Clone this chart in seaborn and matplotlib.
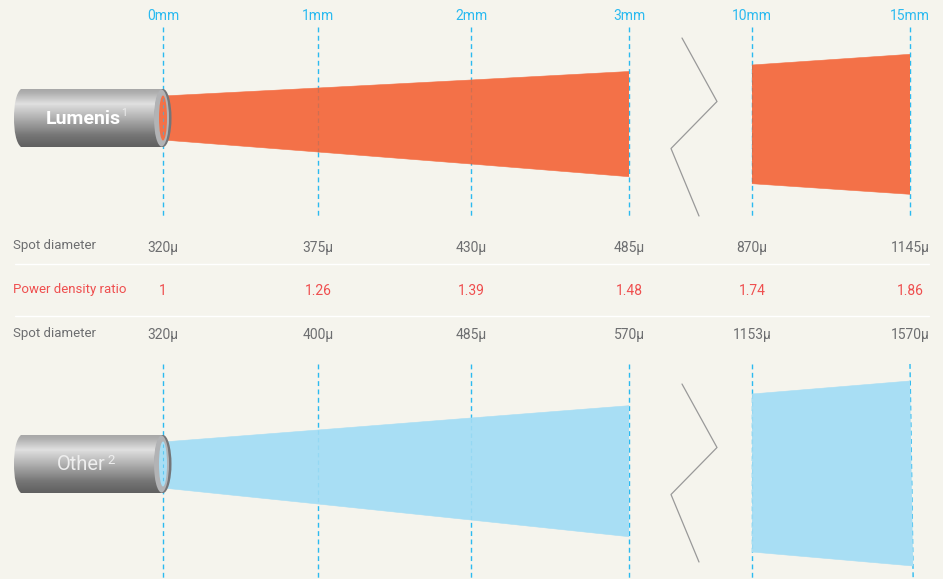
import numpy as np
import pandas as pd
import seaborn as sns
import matplotlib.pyplot as plt
from matplotlib.patches import Ellipse, PathPatch
from matplotlib.path import Path

# ==========================================
# DATA
# ==========================================
MM_NEAR = [0, 1, 2, 3]
MM_FAR = [10, 15]
MM_LABELS = ["0mm", "1mm", "2mm", "3mm", "10mm", "15mm"]

LUMENIS_SPOT = ["320μ", "375μ", "430μ", "485μ", "870μ", "1145μ"]
POWER_RATIO = ["1", "1.26", "1.39", "1.48", "1.74", "1.86"]
OTHER_SPOT = ["320μ", "400μ", "485μ", "570μ", "1153μ", "1570μ"]

# beam edges, one value per distance
LUMENIS_TOP = [96, 88, 80, 71.5, 65, 54.3]
LUMENIS_BOTTOM = [140, 152, 164, 176.7, 183.7, 194.3]
OTHER_TOP = [442, 430, 418, 405.7, 394, 381]
OTHER_BOTTOM = [488, 504, 520, 536.7, 552, 566]
# the far end of the lower beam leans slightly in the source drawing
OTHER_LEAN_MM = 15.1
# ==========================================

W, H = 943, 579
BG = "#f5f4ed"
ORANGE = "#f37148"
SKY = "#a8def4"
CYAN = "#2bbaf0"
GREY = "#6d6e70"
RED = "#ef4f4f"
FONT = ["Roboto", "DejaVu Sans"]


def px_axes(fig, left, right):
    # axes over the full figure height, y in image pixels
    ax = fig.add_axes([left / W, 0, (right - left) / W, 1])
    ax.set_ylim(H, 0)
    ax.axis("off")
    ax.patch.set_alpha(0)
    return ax


def draw_beam(ax, mm, top, bottom, color, mm_bottom=None):
    mm_bottom = mm if mm_bottom is None else mm_bottom
    df = pd.DataFrame({"mm": mm + mm_bottom, "edge": top + bottom,
                       "side": ["top"] * len(mm) + ["bottom"] * len(mm)})
    ax.fill(mm + mm_bottom[::-1], top + bottom[::-1], color=color, lw=0, zorder=3, clip_on=False)
    sns.lineplot(data=df, x="mm", y="edge", units="side", estimator=None, sort=False,
                 color=color, lw=0.4, legend=False, ax=ax, zorder=3, clip_on=False)
    ax.set_xlabel("")
    ax.set_ylabel("")


def draw_guides(ax, mm):
    for m in mm:
        low_end = OTHER_LEAN_MM if m == MM_FAR[-1] else m
        ax.plot([m, m], [27, 216], color=CYAN, lw=1.0, ls=(0, (3.5, 2.5)), zorder=2, clip_on=False)
        ax.plot([m, low_end], [364, 579], color=CYAN, lw=1.0, ls=(0, (3.5, 2.5)), zorder=2, clip_on=False)


def draw_see_through(ax, m, y0, y1, color, alpha):
    # guide lines show faintly through the beams
    ax.plot([m, m], [y0, y1], color=color, alpha=alpha, lw=0.9, ls=(0, (3.5, 2.5)), zorder=4, clip_on=False)


def draw_tube(ax, y0, y1, beam_color, label, sup, bold):
    x0, x1 = 14, 163
    cy = (y0 + y1) / 2
    outline = Path([(x0 + 7, y0), (x1, y0), (x1, y1), (x0 + 7, y1),
                    (x0 + 2, y1 - 4), (x0, y1 - 16), (x0, cy),
                    (x0, y0 + 16), (x0 + 2, y0 + 4), (x0 + 7, y0)],
                   [Path.MOVETO, Path.LINETO, Path.LINETO, Path.LINETO,
                    Path.CURVE4, Path.CURVE4, Path.CURVE4,
                    Path.CURVE4, Path.CURVE4, Path.CURVE4])
    stops_y = [0, 0.06, 0.25, 0.5, 0.8, 1]
    stops_c = [168, 176, 224, 176, 118, 96]
    grad = np.interp(np.linspace(0, 1, 64), stops_y, stops_c)[:, None]
    im = ax.imshow(grad, cmap="gray", vmin=0, vmax=255, aspect="auto",
                   extent=(x0, x1, y1, y0), zorder=5)
    im.set_clip_path(PathPatch(outline, transform=ax.transData))
    h = y1 - y0
    ax.add_patch(Ellipse((163, cy), 17, h, fc="#747578", ec="none", zorder=6))
    ax.add_patch(Ellipse((161.5, cy), 15, h - 1, fc="#b2b3b5", ec="none", zorder=6))
    ax.add_patch(Ellipse((163, cy), 8, h - 13, fc=beam_color, ec="none", zorder=7))
    ax.plot([163, 163], [cy - 20, cy + 20], color=CYAN, lw=0.8, ls=(0, (3, 3)), zorder=8, alpha=0.6)
    if bold:
        ax.text(83.5, cy + 1, label, ha="center", va="center", color="white",
                fontsize=14, family=FONT, weight="bold", zorder=9)
        ax.text(124, cy - 5, sup, ha="center", va="center", color="#eeeeee",
                fontsize=7.5, family=FONT, zorder=9)
    else:
        ax.text(81.5, cy + 1, label, ha="center", va="center", color="#eeeeee",
                fontsize=14.5, family=FONT, zorder=9)
        ax.text(111, cy - 4, sup, ha="center", va="center", color="#eeeeee",
                fontsize=9.5, family=FONT, zorder=9)


def draw_zigzag(ax, dy):
    xs = [682, 717, 671, 699]
    ys = [38, 101.5, 148.5, 216]
    ax.plot(xs, [y + dy for y in ys], color="#999999", lw=0.9, zorder=3)


def main():
    sns.set_theme(style="white", rc={"figure.facecolor": BG, "savefig.facecolor": BG})
    fig = plt.figure(figsize=(W / 100, H / 100), dpi=100)

    # broken distance axis: 0-3mm and 10-15mm panels
    near = px_axes(fig, 163, 629)
    far = px_axes(fig, 752, 910)
    # the printed 0-3mm stations are not quite evenly spaced
    near_at = [0, 155, 308, 466]
    near.set_xscale("function", functions=(lambda x: np.interp(x, MM_NEAR, near_at),
                                           lambda p: np.interp(p, near_at, MM_NEAR)))

    n = len(MM_NEAR)
    for ax, mm, a, b in [(near, MM_NEAR, 0, n), (far, MM_FAR, n, n + len(MM_FAR))]:
        draw_guides(ax, mm)
        draw_beam(ax, mm, LUMENIS_TOP[a:b], LUMENIS_BOTTOM[a:b], ORANGE)
        lean = mm[:-1] + [OTHER_LEAN_MM] if ax is far else mm
        draw_beam(ax, mm, OTHER_TOP[a:b], OTHER_BOTTOM[a:b], SKY, mm_bottom=lean)
        ax.set_xlim(mm[0], mm[-1])
        ax.set_ylim(H, 0)
        ax.axis("off")
        for i, m in enumerate(mm):
            k = a + i
            kw = dict(ha="center", va="center", family=FONT, clip_on=False)
            ax.text(m, 16, MM_LABELS[k], color=CYAN, fontsize=10, **kw)
            ax.text(m, 248, LUMENIS_SPOT[k], color=GREY, fontsize=10, **kw)
            ax.text(m, 291, POWER_RATIO[k], color=RED, fontsize=10, **kw)
            ax.text(m, 334.5, OTHER_SPOT[k], color=GREY, fontsize=10, **kw)
            if m in (1, 2, 10):
                draw_see_through(ax, m, LUMENIS_TOP[k], LUMENIS_BOTTOM[k], "#8a6f66", 0.35)
                draw_see_through(ax, m, OTHER_TOP[k], OTHER_BOTTOM[k], CYAN, 0.15)

    # overlay in image pixels for the fibre tips, row labels and break marks
    over = px_axes(fig, 0, W)
    over.set_xlim(0, W)
    over.set_zorder(5)
    for y in [263.5, 316]:
        over.plot([15, 929], [y, y], color="white", lw=1.0, zorder=1)
    for y, text, color in [(246, "Spot diameter", GREY), (290, "Power density ratio", RED),
                           (334, "Spot diameter", GREY)]:
        over.text(13, y, text, ha="left", va="center", color=color, fontsize=9.5, family=FONT)
    draw_zigzag(over, 0)
    draw_zigzag(over, 346)
    draw_tube(over, 89, 147, ORANGE, "Lumenis", "1", True)
    draw_tube(over, 435, 493, SKY, "Other", "2", False)
    over.set_xlim(0, W)
    over.set_ylim(H, 0)

    fig.savefig("out.png", dpi=100)


if __name__ == "__main__":
    main()
